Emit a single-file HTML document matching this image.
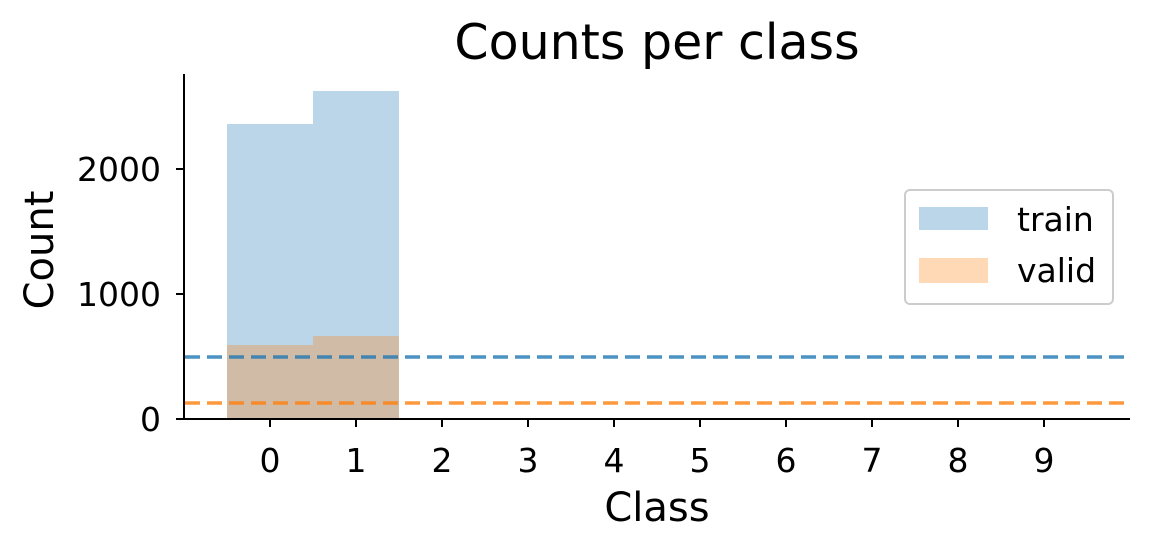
<!DOCTYPE html>
<html><head><meta charset="utf-8"><style>body{margin:0;background:#fff}</style></head><body>
<svg width="1150" height="550" xmlns="http://www.w3.org/2000/svg" font-family="DejaVu Sans, Liberation Sans, sans-serif">
<rect width="1150" height="550" fill="#fff"/>
<text x="657" y="59" font-size="49" text-anchor="middle">Counts per class</text>
<rect x="227" y="124" width="86" height="295" fill="#1f77b4" fill-opacity="0.3"/>
<rect x="313" y="91" width="86" height="328" fill="#1f77b4" fill-opacity="0.3"/>
<rect x="227" y="345" width="86" height="74" fill="#ff7f0e" fill-opacity="0.3"/>
<rect x="313" y="336" width="86" height="83" fill="#ff7f0e" fill-opacity="0.3"/>
<line x1="185" y1="357" x2="1130" y2="357" stroke="#1f77b4" stroke-opacity="0.8" stroke-width="3.5" stroke-dasharray="15,7"/>
<line x1="185" y1="403" x2="1130" y2="403" stroke="#ff7f0e" stroke-opacity="0.8" stroke-width="3.5" stroke-dasharray="15,7"/>
<line x1="184" y1="74" x2="184" y2="420" stroke="#000" stroke-width="2"/>
<line x1="183" y1="419" x2="1130" y2="419" stroke="#000" stroke-width="2"/>
<g stroke="#000" stroke-width="2">
<line x1="176" y1="419" x2="184" y2="419"/><line x1="176" y1="294" x2="184" y2="294"/><line x1="176" y1="169" x2="184" y2="169"/>
<line x1="270" y1="419" x2="270" y2="427"/><line x1="356" y1="419" x2="356" y2="427"/><line x1="442" y1="419" x2="442" y2="427"/><line x1="528" y1="419" x2="528" y2="427"/><line x1="614" y1="419" x2="614" y2="427"/><line x1="700" y1="419" x2="700" y2="427"/><line x1="786" y1="419" x2="786" y2="427"/><line x1="872" y1="419" x2="872" y2="427"/><line x1="958" y1="419" x2="958" y2="427"/><line x1="1044" y1="419" x2="1044" y2="427"/>
</g>
<g font-size="33" text-anchor="end">
<text x="161" y="431">0</text><text x="161" y="306">1000</text><text x="161" y="181">2000</text>
</g>
<g font-size="33" text-anchor="middle">
<text x="270" y="472">0</text><text x="356" y="472">1</text><text x="442" y="472">2</text><text x="528" y="472">3</text><text x="614" y="472">4</text><text x="700" y="472">5</text><text x="786" y="472">6</text><text x="872" y="472">7</text><text x="958" y="472">8</text><text x="1044" y="472">9</text>
</g>
<text x="657" y="521" font-size="40" text-anchor="middle">Class</text>
<text transform="translate(53,250) rotate(-90)" font-size="40" text-anchor="middle">Count</text>
<rect x="905" y="190" width="208" height="114" rx="5" fill="#fff" stroke="#ccc" stroke-width="2"/>
<rect x="919" y="207" width="69" height="23" fill="#1f77b4" fill-opacity="0.3"/>
<rect x="919" y="258" width="69" height="25" fill="#ff7f0e" fill-opacity="0.3"/>
<text x="1017" y="231" font-size="33">train</text>
<text x="1017" y="282" font-size="33">valid</text>
</svg>
</body></html>
